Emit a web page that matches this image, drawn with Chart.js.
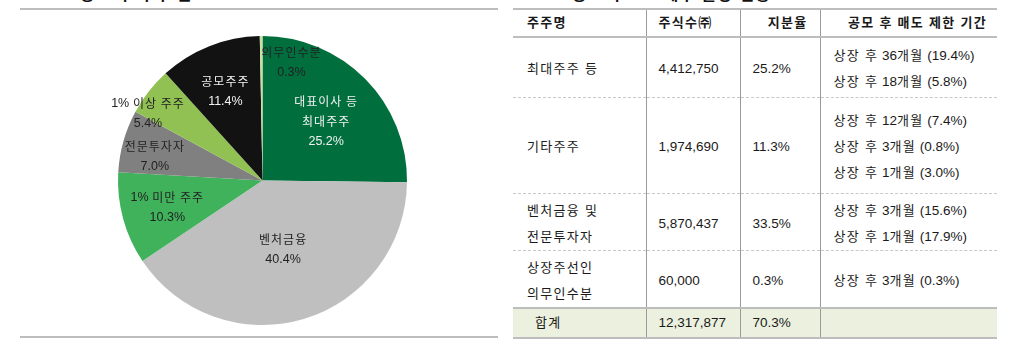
<!DOCTYPE html>
<html lang="ko">
<head>
<meta charset="utf-8">
<script src="https://cdn.jsdelivr.net/npm/chart.js@4.4.0/dist/chart.umd.min.js"></script>
<style>
  body { margin: 0; width: 1021px; height: 341px; overflow: hidden; background: #fff;
         font-family: "Liberation Sans", "Noto Sans CJK KR", sans-serif; color: #1a1a1a; }
  .k { letter-spacing: 1.3px; font-size: 13px; }
  .title { position: absolute; top: -13px; font-size: 16px; line-height: 16px; font-weight: bold; color: #111; white-space: nowrap; }
  .title .k { font-size: 16px; }
  .rule { position: absolute; height: 2px; background: #BDBDBD; }
  #pie { position: absolute; left: 18px; top: 26px; }
  #tbl { position: absolute; left: 513px; top: 8px; border-collapse: collapse; table-layout: fixed;
         width: 484px; font-size: 13.5px; line-height: 26px; }
  #tbl td, #tbl th { padding: 4px 0 0 12px; vertical-align: middle; white-space: nowrap; text-align: left; }
  #tbl th { font-weight: bold; border-top: 2px solid #BDBDBD; border-bottom: 2px solid #BDBDBD; padding-top: 0; }
  #tbl td + td, #tbl th + th { border-left: 1px solid #9A9A9A; }
  #tbl tr.body td { border-bottom: 1px dashed #C8C8C8; }
  #tbl tr.last td { border-bottom: 2px solid #BDBDBD; }
  #tbl tr.total td { background: #EBF1DE; border-bottom: 2px solid #BDBDBD; padding-top: 0; }
</style>
</head>
<body>
<div class="title" style="left:80px"><span class="k">공모 후 주주 분포</span></div>
<div class="title" style="left:572px"><span class="k">공모 후 보호예수 물량 현황</span></div>
<div class="rule" style="left:20px; top:8px; width:478px"></div>
<div class="rule" style="left:20px; top:336px; width:478px"></div>
<canvas id="pie" width="489" height="309"></canvas>
<table id="tbl"></table>

<script>
// 공모 후 주주 분포 (%)
const sliceNames = ['대표이사 등\n최대주주', '벤처금융', '1% 미만 주주', '전문투자자', '1% 이상 주주', '공모주주', '의무인수분'];
const sliceShares = [25.2, 40.4, 10.3, 7.0, 5.4, 11.4, 0.3];
const sliceColors = ['#006F3D', '#BFBFBF', '#40B25C', '#808080', '#92C153', '#121212', '#C8E0A2'];
const labelColors = ['#F2F2F2', '#222', '#222', '#222', '#222', '#F2F2F2', '#222'];
// label placement: fraction of radius along the slice middle, then a small nudge
const labelFactors = [0.59, 0.5, 0.69, 0.76, 0.92, 0.66, 0.81];
const labelNudge = [[3, 1], [0, 0], [1, 1], [-2, 6], [-10, 15], [-2, 0], [30, -1]];

// 보호예수 표
const tableHeaders = ['주주명', '주식수㈜', '지분율', '공모 후 매도 제한 기간'];
const holderNames = [['최대주주 등'], ['기타주주'], ['벤처금융 및', '전문투자자'], ['상장주선인', '의무인수분'], ['합계']];
const shareCounts = ['4,412,750', '1,974,690', '5,870,437', '60,000', '12,317,877'];
const shareRatios = ['25.2%', '11.3%', '33.5%', '0.3%', '70.3%'];
const lockupPeriods = [
  ['상장 후 36개월 (19.4%)', '상장 후 18개월 (5.8%)'],
  ['상장 후 12개월 (7.4%)', '상장 후 3개월 (0.8%)', '상장 후 1개월 (3.0%)'],
  ['상장 후 3개월 (15.6%)', '상장 후 1개월 (17.9%)'],
  ['상장 후 3개월 (0.3%)'],
  []
];
const rowHeights = [60, 96, 52, 54, 30];

// hangul runs get a bit of extra spacing (the original font is wider)
function kr(s) {
  return s.replace(/([가-힣㈜]+(?: [가-힣]+)*)/g, '<span class="k">$1</span>');
}

// table
var tbl = document.getElementById('tbl');
var cg = document.createElement('colgroup');
[133, 94, 80, 177].forEach(function (w) {
  var c = document.createElement('col'); c.style.width = w + 'px'; cg.appendChild(c);
});
tbl.appendChild(cg);
var hr = tbl.insertRow();
hr.style.height = '27px';
tableHeaders.forEach(function (h, i) {
  var th = document.createElement('th');
  th.innerHTML = kr(h);
  if (i == 0) th.style.paddingLeft = '14px';
  if (i >= 2) { th.style.textAlign = 'right'; th.style.paddingRight = i == 2 ? '12px' : '10px'; }
  hr.appendChild(th);
});
holderNames.forEach(function (name, r) {
  var tr = tbl.insertRow();
  tr.style.height = rowHeights[r] + 'px';
  tr.className = r == holderNames.length - 1 ? 'total' : (r == holderNames.length - 2 ? 'last' : 'body');
  var cells = [name.map(kr).join('<br>'), shareCounts[r], shareRatios[r], lockupPeriods[r].map(kr).join('<br>')];
  cells.forEach(function (html, i) {
    var td = tr.insertCell();
    td.innerHTML = html;
    if (i == 0) td.style.paddingLeft = r == holderNames.length - 1 ? '22px' : '14px';
    if (i == 3) td.style.paddingLeft = '13px';
  });
});

// draw text with hangul and latin runs in their own fonts, centred on cx
function drawMixed(ctx, text, cx, cy) {
  var runs = text.match(/[가-힣 ]+|[^가-힣 ]+/g) || [];
  var parts = runs.map(function (t) {
    var isKr = /[가-힣]/.test(t);
    ctx.font = isKr ? '12px "Noto Sans CJK KR"' : '12.5px "Liberation Sans"';
    ctx.letterSpacing = isKr ? '1px' : '0px';
    return { t: t, kr: isKr, w: ctx.measureText(t).width };
  });
  var total = parts.reduce(function (s, p) { return s + p.w; }, 0);
  var x = cx - total / 2;
  parts.forEach(function (p) {
    ctx.font = p.kr ? '12px "Noto Sans CJK KR"' : '12.5px "Liberation Sans"';
    ctx.letterSpacing = p.kr ? '1px' : '0px';
    ctx.fillText(p.t, x, cy);
    x += p.w;
  });
}

// pie labels
const sliceLabels = {
  id: 'sliceLabels',
  afterDatasetsDraw: function (chart) {
    const ctx = chart.ctx;
    const arcs = chart.getDatasetMeta(0).data;
    ctx.save();
    ctx.textAlign = 'left';
    ctx.textBaseline = 'middle';
    arcs.forEach(function (arc, i) {
      const p = arc.getProps(['x', 'y', 'startAngle', 'endAngle', 'outerRadius'], true);
      const mid = (p.startAngle + p.endAngle) / 2;
      const r = p.outerRadius * labelFactors[i];
      const cx = p.x + Math.cos(mid) * r + labelNudge[i][0];
      const cy = p.y + Math.sin(mid) * r + labelNudge[i][1];
      const lines = sliceNames[i].split('\n').concat([sliceShares[i].toFixed(1) + '%']);
      const top = cy - (lines.length - 1) * 10;
      ctx.fillStyle = labelColors[i];
      lines.forEach(function (t, k) { drawMixed(ctx, t, cx, top + k * 20); });
    });
    ctx.restore();
  }
};

var pieChart = new Chart(document.getElementById('pie').getContext('2d'), {
  type: 'pie',
  data: {
    labels: sliceNames,
    datasets: [{
      data: sliceShares,
      backgroundColor: sliceColors,
      borderWidth: 0
    }]
  },
  options: {
    responsive: false,
    animation: false,
    layout: { padding: { top: 10, bottom: 10 } },
    plugins: {
      legend: { display: false },
      tooltip: { enabled: false }
    }
  },
  plugins: [sliceLabels]
});
</script>
</body>
</html>
